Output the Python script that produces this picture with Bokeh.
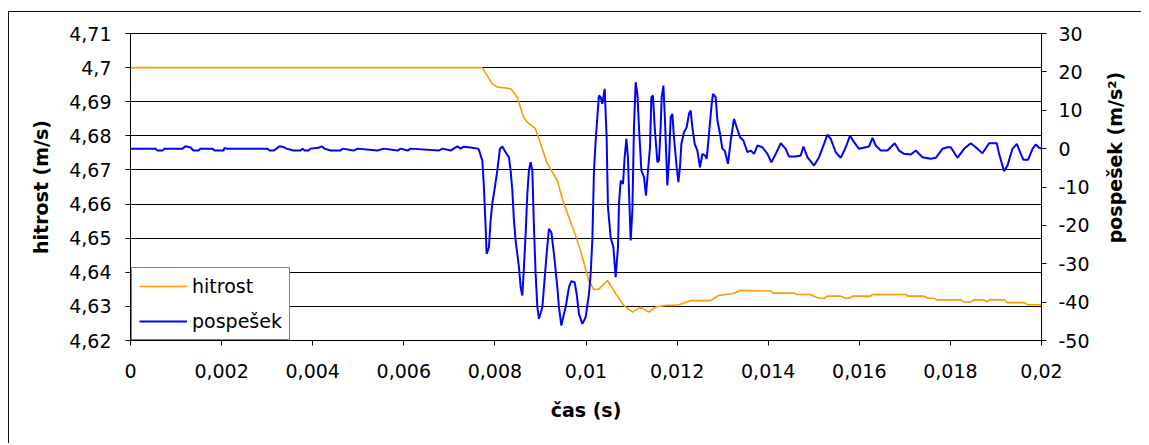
import math

from bokeh.plotting import figure
from bokeh.layouts import row
from bokeh.models import Range1d, LinearAxis, FixedTicker, CustomJSTickFormatter, Label
from bokeh.embed import file_html
from bokeh.resources import INLINE

# time axis ticks (s) and the two value axes
time_ticks = [0, 0.002, 0.004, 0.006, 0.008, 0.01, 0.012, 0.014, 0.016, 0.018, 0.02]
speed_ticks = [4.62, 4.63, 4.64, 4.65, 4.66, 4.67, 4.68, 4.69, 4.70, 4.71]
acc_ticks = [-50, -40, -30, -20, -10, 0, 10, 20, 30]

# hitrost (m/s) against time
speed_t = [0, 0.00772, 0.00794, 0.00805, 0.00835, 0.00849, 0.00863, 0.00871, 0.00889, 0.00900,
           0.00915, 0.00937, 0.00951, 0.00973, 0.00988, 0.01006, 0.01017, 0.01028, 0.01047, 0.01065,
           0.01083, 0.01102, 0.01120, 0.01138, 0.01153, 0.01175, 0.01201, 0.01230, 0.01274, 0.01291,
           0.01324, 0.01340, 0.01384, 0.01406, 0.01411, 0.01457, 0.01463, 0.01493, 0.01501, 0.01512,
           0.01523, 0.01530, 0.01559, 0.01570, 0.01578, 0.01585, 0.01625, 0.01629, 0.01702, 0.01706,
           0.01742, 0.01750, 0.01764, 0.01770, 0.01823, 0.01829, 0.01845, 0.01851, 0.01874, 0.01880,
           0.01885, 0.01918, 0.01925, 0.01962, 0.01969, 0.02]
speed_v = [4.7000, 4.7000, 4.6953, 4.6943, 4.6938, 4.6913, 4.6855, 4.6840, 4.6821, 4.6778,
           4.6719, 4.6669, 4.6602, 4.6523, 4.6464, 4.6376, 4.6350, 4.6350, 4.6376, 4.6338,
           4.6303, 4.6283, 4.6298, 4.6283, 4.6298, 4.6303, 4.6303, 4.6317, 4.6317, 4.6332,
           4.6338, 4.6347, 4.6345, 4.6345, 4.6339, 4.6339, 4.6335, 4.6335, 4.6329, 4.6324,
           4.6324, 4.6330, 4.6330, 4.6324, 4.6324, 4.6330, 4.6330, 4.6335, 4.6335, 4.6330,
           4.6330, 4.6324, 4.6324, 4.6319, 4.6319, 4.6313, 4.6313, 4.6319, 4.6319, 4.6313,
           4.6319, 4.6319, 4.6311, 4.6311, 4.6305, 4.6305]

# pospešek (m/s^2) against time
acc_t = [0, 0.000549, 0.000593, 0.000703, 0.000747, 0.001142, 0.001208, 0.001318, 0.001384, 0.001493,
         0.001537, 0.001801, 0.001845, 0.001976, 0.002042, 0.002064, 0.002108, 0.003009, 0.003053, 0.003140,
         0.003206, 0.003272, 0.003360, 0.003426, 0.003580, 0.003733, 0.003777, 0.003821, 0.003909, 0.003953,
         0.004129, 0.004195, 0.004260, 0.004392, 0.004612, 0.004656, 0.004897, 0.004985, 0.005424, 0.005556,
         0.005864, 0.005929, 0.006083, 0.006149, 0.006764, 0.006852, 0.007028, 0.007093, 0.007181, 0.007247,
         0.007313, 0.007467, 0.007620, 0.007642,
         0.007724, 0.007759, 0.007796, 0.007818, 0.007869, 0.007906, 0.007943, 0.007978, 0.008053, 0.008110,
         0.008163, 0.008235, 0.008308, 0.008345, 0.008383, 0.008418, 0.008455, 0.008528, 0.008565, 0.008602,
         0.008637, 0.008675, 0.008712, 0.008747, 0.008784, 0.008822, 0.008857, 0.008894, 0.008932, 0.008967,
         0.009041, 0.009077, 0.009136, 0.009186, 0.009239, 0.009296, 0.009371, 0.009406, 0.009459, 0.009516,
         0.009553, 0.009626, 0.009678, 0.009751, 0.009795, 0.009845, 0.009920, 0.009992, 0.010065, 0.010102,
         0.010139, 0.010175, 0.010212, 0.010249, 0.010284,
         0.010322, 0.010359, 0.010410, 0.010453, 0.010482, 0.010541, 0.010601, 0.010651, 0.010702, 0.010724,
         0.010761, 0.010812, 0.010849, 0.010886, 0.010921, 0.010943, 0.010981, 0.011018, 0.011053, 0.011090,
         0.011128, 0.011163, 0.011216, 0.011273, 0.011317, 0.011361, 0.011405, 0.011435, 0.011470, 0.011508,
         0.011567, 0.011602, 0.011639, 0.011661, 0.011699, 0.011734, 0.011786, 0.011822, 0.011859, 0.011896,
         0.011931, 0.011991, 0.012028, 0.012063, 0.012094, 0.012151, 0.012210, 0.012261, 0.012298, 0.012335,
         0.012386, 0.012445, 0.012502, 0.012555, 0.012612, 0.012650, 0.012700, 0.012759, 0.012788, 0.012847,
         0.012885, 0.012942, 0.012994, 0.013045, 0.013117, 0.013177, 0.013249, 0.013308, 0.013381, 0.013455,
         0.013544,
         0.013616, 0.013689, 0.013763, 0.013873, 0.013983, 0.014070, 0.014165, 0.014275, 0.014384, 0.014457,
         0.014604, 0.014714, 0.014773, 0.014861, 0.015006, 0.015116, 0.015226, 0.015300, 0.015373, 0.015483,
         0.015592, 0.015702, 0.015797, 0.015885, 0.015994, 0.016141, 0.016214, 0.016289, 0.016361, 0.016471,
         0.016618, 0.016778, 0.016873, 0.016983, 0.017130, 0.017239, 0.017386, 0.017569, 0.017679, 0.017826,
         0.017936, 0.018008, 0.018155, 0.018300, 0.018447, 0.018557, 0.018704, 0.018849, 0.019018, 0.019069,
         0.019179, 0.019253, 0.019363, 0.019458, 0.019545, 0.019605, 0.019706, 0.019802, 0.019875, 0.019947,
         0.02]
acc_v = [0.0, 0.0, -0.5, -0.5, 0.0, 0.0, 0.6, 0.3, -0.5, -0.5,
         0.0, 0.0, -0.5, -0.5, -0.5, 0.2, 0.0, 0.0, -0.5, -0.5,
         0.0, 0.6, 0.4, 0.0, -0.5, -0.5, 0.0, -0.5, -0.5, 0.0,
         0.2, 0.6, 0.0, -0.5, -0.5, 0.0, -0.5, 0.0, -0.5, 0.0,
         -0.5, 0.0, -0.5, 0.0, -0.5, 0.0, -0.5, 0.0, 0.6, 0.0,
         0.5, 0.3, 0.0, -0.1,
         -3.10, -10.06, -20.48, -27.41, -25.69, -18.74, -14.31, -11.70, -5.71, -0.05,
         0.55, -0.94, -2.24, -5.71, -10.92, -18.74, -23.95, -30.91, -36.12, -38.28,
         -30.91, -22.12, -11.70, -5.71, -3.54, -5.71, -20.48, -32.55, -41.33, -44.35,
         -41.33, -36.12, -27.34, -20.90, -21.79, -27.41, -36.12, -41.33, -46.10, -43.05,
         -41.33, -36.12, -34.55, -34.81, -37.84, -43.05, -45.66, -43.94, -37.84, -32.63,
         -23.95, -5.71, 2.11, 8.18, 13.84,
         13.39, 11.67, 15.58, 2.97, -15.27, -23.09, -25.69, -33.51, -25.69, -14.38,
         -8.31, -9.17, -2.24, 2.55, -2.24, -10.92, -23.95, -16.13, 5.58, 17.30,
         14.28, 5.58, -5.71, -7.45, -12.22, -5.71, 0.36, 13.39, 13.84, 5.58,
         -3.54, -3.10, 5.58, 13.39, 16.44, 7.32, -9.62, -3.10, 8.18, 9.07,
         2.97, -4.85, -8.76, -4.85, 1.25, 4.27, 5.58, 9.07, 9.93, 5.58,
         1.25, -0.50, -4.85, -1.36, -1.80, -2.66, 3.86, 11.67, 14.28, 13.39,
         7.32, 3.86, -0.05, -0.50, -3.96, 2.11, 7.77, 5.58, 2.97, 2.11,
         -0.94,
         -0.50, -1.36, 0.81, 0.36, -1.36, -3.54, -1.36, 1.41, -0.05, -2.06,
         -2.06, -1.80, 0.55, -2.24, -4.40, -2.24, 1.25, 3.67, 2.55, -0.94,
         -2.40, 0.36, 3.41, 1.67, -0.05, 0.36, 0.55, 2.81, 0.81, -0.50,
         -0.50, 1.41, -0.50, -1.36, -1.54, -0.50, -2.24, -2.66, -2.40, -0.05,
         0.36, 0.36, -2.40, -0.05, 1.41, 0.36, -1.20, 1.41, 1.41, -1.36,
         -5.89, -4.40, -0.05, 1.25, -1.36, -2.92, -2.92, -0.05, 1.07, 0.21,
         0.0]

FONT = "DejaVu Sans"
BORDER = "1px solid #111"

p = figure(width=1088, height=432,
           x_range=Range1d(0, 0.02), y_range=Range1d(4.62, 4.71),
           output_backend="svg", toolbar_location=None,
           min_border_left=121, min_border_right=56,
           min_border_top=21, min_border_bottom=104,
           background_fill_color="white", border_fill_color="white")
p.margin = (11, 0, 0, 8)
p.styles = {"border-left": BORDER, "border-top": BORDER}
p.outline_line_color = "black"
p.outline_line_width = 1

p.extra_y_ranges = {"acc": Range1d(-50, 30)}
right_axis = LinearAxis(y_range_name="acc")
p.add_layout(right_axis, "right")

x_axis = p.below[0]
left_axis = p.left[0]

x_axis.ticker = FixedTicker(ticks=time_ticks)
left_axis.ticker = FixedTicker(ticks=speed_ticks)
right_axis.ticker = FixedTicker(ticks=acc_ticks)

x_axis.formatter = CustomJSTickFormatter(
    code="return tick.toFixed(3).replace(/0+$/, '').replace(/\\.$/, '').replace('.', ',');")
left_axis.formatter = CustomJSTickFormatter(
    code="return tick.toFixed(2).replace(/0+$/, '').replace(/\\.$/, '').replace('.', ',');")
right_axis.formatter = CustomJSTickFormatter(code="return tick.toFixed(0);")

x_axis.axis_label = "čas (s)"
left_axis.axis_label = "hitrost (m/s)"

for ax in (x_axis, left_axis, right_axis):
    ax.major_label_text_font = FONT
    ax.major_label_text_font_size = "19px"
    ax.major_label_text_color = "black"
    ax.axis_label_text_font = FONT
    ax.axis_label_text_font_size = "19px"
    ax.axis_label_text_font_style = "bold"
    ax.axis_label_text_color = "black"
    ax.axis_line_color = "black"
    ax.axis_line_width = 1
    ax.major_tick_line_color = "black"
    ax.major_tick_in = 0
    ax.major_tick_out = 5
    ax.minor_tick_line_color = None

x_axis.major_label_standoff = 18
x_axis.axis_label_standoff = 18
left_axis.major_label_standoff = 14
left_axis.axis_label_standoff = 14
right_axis.major_label_standoff = 12

p.xgrid.visible = False
p.ygrid.ticker = FixedTicker(ticks=speed_ticks)
p.ygrid.grid_line_color = "black"
p.ygrid.grid_line_width = 1

p.line(speed_t, speed_v, line_color="#FF9900", line_width=1.6, legend_label="hitrost")
p.line(acc_t, acc_v, line_color="#0000FF", line_width=2, y_range_name="acc", legend_label="pospešek")

lg = p.legend[0]
lg.location = (1, 0)
lg.margin = 0
lg.padding = 7
lg.spacing = 13
lg.glyph_width = 48
lg.glyph_height = 20
lg.label_standoff = 5
lg.label_text_font = FONT
lg.label_text_font_size = "19px"
lg.label_text_color = "black"
lg.border_line_color = "black"
lg.border_line_width = 1
lg.background_fill_color = "white"
lg.background_fill_alpha = 1

# narrow strip on the right carrying the secondary axis title (reads bottom to top)
side = figure(width=45, height=432, x_range=Range1d(0, 45), y_range=Range1d(0, 432),
              output_backend="svg", toolbar_location=None,
              x_axis_location=None, y_axis_location=None,
              min_border=0, min_border_left=0, min_border_right=0,
              min_border_top=0, min_border_bottom=0,
              background_fill_color="white", border_fill_color="white")
side.margin = (11, 0, 0, 0)
side.styles = {"border-top": BORDER}
side.outline_line_color = None
side.grid.visible = False
side.add_layout(Label(x=18, y=257.5, text="pospešek (m/s²)", angle=math.pi / 2,
                      text_align="center", text_baseline="middle",
                      text_font=FONT, text_font_size="19px", text_font_style="bold",
                      text_color="black"))

page = row(p, side, spacing=0)

open("out.html", "w").write(file_html(page, INLINE))
